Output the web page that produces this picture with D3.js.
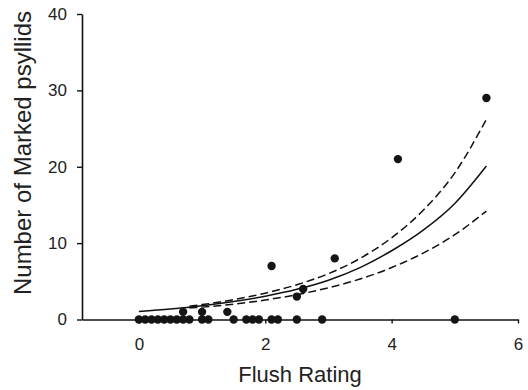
<!DOCTYPE html>
<html>
<head>
<meta charset="utf-8">
<script src="https://cdn.jsdelivr.net/npm/d3@7"></script>
<style>
  body { margin: 0; background: #fff; }
  text { font-family: "Liberation Sans", Arial, sans-serif; fill: #222; }
</style>
</head>
<body>
<div id="chart"></div>
<script>
// observed counts
var flushX = [0, 0.1, 0.2, 0.3, 0.4, 0.5, 0.6, 0.7, 0.8, 1.0, 1.1, 1.5, 1.7, 1.8, 1.9, 2.1, 2.2, 2.5, 2.9, 5.0,
              0.7, 1.0, 1.4, 2.1, 2.5, 2.6, 3.1, 4.1, 5.5];
var psyllids = [0, 0, 0, 0, 0, 0, 0, 0, 0, 0, 0, 0, 0, 0, 0, 0, 0, 0, 0, 0,
                1, 1, 1, 7, 3, 4, 8, 21, 29];

// fitted curve + confidence bands
var fitX = [0, 0.5, 1, 1.5, 2, 2.5, 3, 3.5, 4, 4.5, 5, 5.5];
var fitY = [1.05, 1.37, 1.8, 2.35, 3.05, 3.95, 5.15, 6.8, 9.0, 11.7, 15.2, 20.1];
var bandX = [0.8, 1, 1.5, 2, 2.5, 3, 3.5, 4, 4.5, 5, 5.5];
var upperY = [1.75, 1.95, 2.6, 3.45, 4.55, 6.0, 8.0, 10.7, 14.3, 19.2, 26.2];
var lowerY = [1.5, 1.62, 2.0, 2.55, 3.25, 4.15, 5.3, 6.8, 8.7, 11.1, 14.2];

var xTicks = [0, 2, 4, 6];
var yTicks = [0, 10, 20, 30, 40];

var width = 528, height = 390;

var xScale = d3.scaleLinear().domain([-0.9, 6]).range([82, 518]);
var yScale = d3.scaleLinear().domain([0, 40]).range([319.5, 14]);

var svg = d3.select("#chart")
  .append("svg")
  .attr("width", width)
  .attr("height", height)
  .style("display", "block");

// axes
var xAxis = svg.append("g")
  .attr("transform", "translate(0," + yScale(0) + ")")
  .call(d3.axisBottom(xScale).tickValues(xTicks).tickFormat(d3.format("d"))
    .tickSize(4).tickSizeOuter(0).tickPadding(14));

var yAxis = svg.append("g")
  .attr("transform", "translate(" + xScale(-0.9) + ",0)")
  .call(d3.axisLeft(yScale).tickValues(yTicks).tickFormat(d3.format("d"))
    .tickSize(5).tickSizeOuter(0).tickPadding(10));

[xAxis, yAxis].forEach(function(a) {
  a.selectAll("path, line").attr("stroke", "#111").attr("stroke-width", 1.4);
  a.selectAll("text").style("font-size", "17px").attr("fill", "#222");
  a.select(".domain").attr("stroke-width", 1.6);
});

// curves
var line = d3.line().curve(d3.curveMonotoneX)
  .x(function(d) { return xScale(d[0]); })
  .y(function(d) { return yScale(d[1]); });

svg.append("path")
  .datum(fitX.map(function(x, i) { return [x, fitY[i]]; }))
  .attr("d", line)
  .style("fill", "none")
  .style("stroke", "#111")
  .style("stroke-width", 1.5);

[upperY, lowerY].forEach(function(ys) {
  svg.append("path")
    .datum(bandX.map(function(x, i) { return [x, ys[i]]; }))
    .attr("d", line)
    .style("fill", "none")
    .style("stroke", "#111")
    .style("stroke-width", 1.5)
    .style("stroke-dasharray", "8,4");
});

// points
svg.selectAll("circle")
  .data(flushX.map(function(x, i) { return {x: x, y: psyllids[i]}; }))
  .enter()
  .append("circle")
  .attr("cx", function(d) { return xScale(d.x); })
  .attr("cy", function(d) { return yScale(d.y); })
  .attr("r", 4.2)
  .style("fill", "#151515");

// axis titles
svg.append("text")
  .attr("x", (xScale(-0.9) + xScale(6)) / 2)
  .attr("y", 382)
  .attr("text-anchor", "middle")
  .style("font-size", "22px")
  .text("Flush Rating");

svg.append("text")
  .attr("transform", "translate(31,153) rotate(-90)")
  .attr("text-anchor", "middle")
  .style("font-size", "24px")
  .text("Number of Marked psyllids");
</script>
</body>
</html>
